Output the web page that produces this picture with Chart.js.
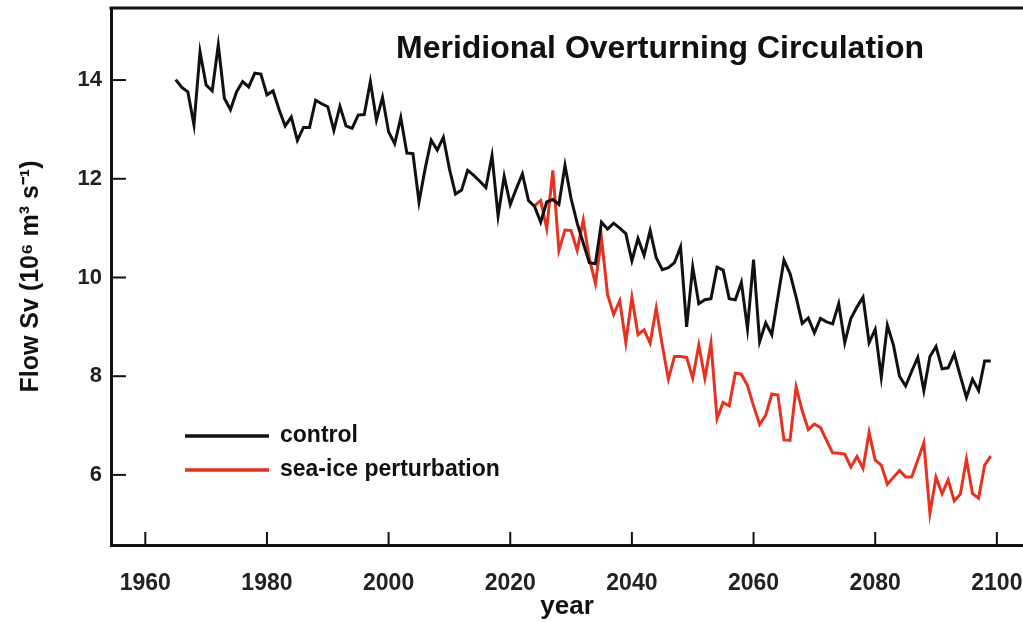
<!DOCTYPE html>
<html>
<head>
<meta charset="utf-8">
<script src="https://cdn.jsdelivr.net/npm/chart.js@4"></script>
<style>
  html, body { margin: 0; padding: 0; background: #fff; }
  #wrap { width: 1023px; height: 622px; }
</style>
</head>
<body>
<div id="wrap"><canvas id="moc"></canvas></div>
<script>
// years and annual values
var controlStart = 1965;
var controlFlow = [
  14.01, 13.85, 13.76, 13.09, 14.57, 13.90, 13.78, 14.71, 13.63, 13.40,
  13.76, 13.97, 13.86, 14.14, 14.12, 13.70, 13.78, 13.40, 13.07, 13.25,
  12.78, 13.04, 13.04, 13.59, 13.52, 13.46, 12.98, 13.47, 13.07, 13.02,
  13.29, 13.30, 13.97, 13.19, 13.65, 12.95, 12.71, 13.24, 12.52, 12.51,
  11.53, 12.20, 12.78, 12.58, 12.84, 12.20, 11.69, 11.77, 12.17, 12.07,
  11.95, 11.82, 12.47, 11.25, 12.05, 11.48, 11.80, 12.10, 11.56, 11.44,
  11.12, 11.53, 11.58, 11.48, 12.27, 11.60, 11.10, 10.70, 10.30, 10.28,
  11.12, 10.98, 11.10, 11.00, 10.89, 10.34, 10.79, 10.45, 10.95, 10.40,
  10.16, 10.20, 10.30, 10.62, 9.00, 10.21, 9.47, 9.55, 9.57, 10.21,
  10.15, 9.57, 9.55, 9.90, 8.96, 10.36, 8.70, 9.08, 8.84, 9.60,
  10.35, 10.08, 9.60, 9.07, 9.18, 8.88, 9.17, 9.10, 9.06, 9.47,
  8.68, 9.17, 9.40, 9.60, 8.68, 8.95, 7.98, 9.03, 8.63, 8.00,
  7.80, 8.10, 8.38, 7.71, 8.40, 8.60, 8.15, 8.17, 8.45, 8.00,
  7.57, 7.94, 7.71, 8.31, 8.31
];
var iceStart = 2024;
var iceFlow = [
  11.45, 11.56, 10.99, 12.17, 10.55, 10.96, 10.95, 10.55, 11.16, 10.38,
  9.88, 10.80, 9.65, 9.25, 9.53, 8.68, 9.60, 8.84, 8.94, 8.67,
  9.38, 8.62, 7.94, 8.40, 8.40, 8.38, 7.96, 8.63, 7.96, 8.67,
  7.14, 7.47, 7.40, 8.06, 8.04, 7.81, 7.40, 7.02, 7.21, 7.64,
  7.62, 6.71, 6.70, 7.78, 7.30, 6.92, 7.03, 6.96, 6.70, 6.45,
  6.44, 6.42, 6.16, 6.37, 6.13, 6.86, 6.30, 6.20, 5.81, 5.95,
  6.09, 5.96, 5.96, 6.30, 6.65, 5.22, 5.95, 5.62, 5.90, 5.47,
  5.61, 6.32, 5.62, 5.53, 6.20, 6.38
];
var xTicks = [1960, 1980, 2000, 2020, 2040, 2060, 2080, 2100];
var yTicks = [6, 8, 10, 12, 14];
var seriesNames = ['control', 'sea-ice perturbation'];
var chartTitle = 'Meridional Overturning Circulation';

function toPoints(start, vals) {
  return vals.map(function (v, i) { return { x: start + i, y: v }; });
}

var ink = '#111111';
var red = '#e6321f';
var fam = 'Liberation Sans, Arial, sans-serif';

// inward tick marks, top frame line, title and legend inside the plot
var decorations = {
  id: 'decorations',
  afterDraw: function (chart) {
    var ctx = chart.ctx, a = chart.chartArea;
    var xs = chart.scales.x, ys = chart.scales.y;
    ctx.save();
    ctx.strokeStyle = ink;
    ctx.lineWidth = 2;
    xTicks.forEach(function (t) {
      var px = xs.getPixelForValue(t);
      ctx.beginPath(); ctx.moveTo(px, a.bottom); ctx.lineTo(px, a.bottom - 13); ctx.stroke();
    });
    yTicks.forEach(function (t) {
      var py = ys.getPixelForValue(t);
      ctx.beginPath(); ctx.moveTo(a.left, py); ctx.lineTo(a.left + 15, py); ctx.stroke();
    });
    ctx.lineWidth = 3;
    ctx.beginPath(); ctx.moveTo(a.left - 1.5, a.top); ctx.lineTo(a.right, a.top); ctx.stroke();

    ctx.fillStyle = ink;
    ctx.font = 'bold 32px ' + fam;
    ctx.textAlign = 'center';
    ctx.textBaseline = 'middle';
    ctx.fillText(chartTitle, a.left + 549, a.top + 41);

    ctx.font = 'bold 23px ' + fam;
    ctx.textAlign = 'left';
    chart.data.datasets.forEach(function (ds, i) {
      var ly = a.top + 428 + i * 34;
      ctx.strokeStyle = ds.borderColor;
      ctx.lineWidth = 3.5;
      ctx.beginPath(); ctx.moveTo(a.left + 74, ly); ctx.lineTo(a.left + 158, ly); ctx.stroke();
      ctx.fillText(ds.label, a.left + 169, ly);
    });
    ctx.restore();
  }
};

new Chart(document.getElementById('moc'), {
  type: 'line',
  data: {
    datasets: [
      { label: seriesNames[0], data: toPoints(controlStart, controlFlow),
        borderColor: ink, borderWidth: 3, pointRadius: 0, tension: 0 },
      { label: seriesNames[1], data: toPoints(iceStart, iceFlow),
        borderColor: red, borderWidth: 3, pointRadius: 0, tension: 0 }
    ]
  },
  options: {
    responsive: true,
    maintainAspectRatio: false,
    animation: false,
    layout: { padding: { top: 8, right: 0, left: 0, bottom: 0 } },
    plugins: { legend: { display: false }, tooltip: { enabled: false } },
    scales: {
      x: {
        type: 'linear',
        min: 1954.36,
        max: 2104.3,
        afterBuildTicks: function (s) { s.ticks = xTicks.map(function (v) { return { value: v }; }); },
        afterFit: function (s) { s.height = 77; s.paddingLeft = 0; s.paddingRight = 0; },
        grid: { display: false, drawTicks: false },
        border: { display: true, color: ink, width: 3 },
        ticks: { color: '#222', font: { family: fam, weight: 'bold', size: 23 }, padding: 25, maxRotation: 0,
                 callback: function (v) { return String(v); } },
        title: { display: true, text: 'year', color: ink, font: { family: fam, weight: 'bold', size: 26 }, padding: { top: 0, bottom: 0 } }
      },
      y: {
        min: 4.58,
        max: 15.46,
        afterBuildTicks: function (s) { s.ticks = yTicks.map(function (v) { return { value: v }; }); },
        afterFit: function (s) { s.width = 111; s.paddingTop = 0; s.paddingBottom = 0; },
        grid: { display: false, drawTicks: false },
        border: { display: true, color: ink, width: 3 },
        ticks: { color: '#222', font: { family: fam, weight: 'bold', size: 22 }, padding: 9 },
        title: { display: true, text: 'Flow Sv (10\u2076 m\u00b3 s\u207b\u00b9)', color: ink, font: { family: fam, weight: 'bold', size: 25 }, padding: { top: 16, bottom: 0 } }
      }
    }
  },
  plugins: [decorations]
});
</script>
</body>
</html>
